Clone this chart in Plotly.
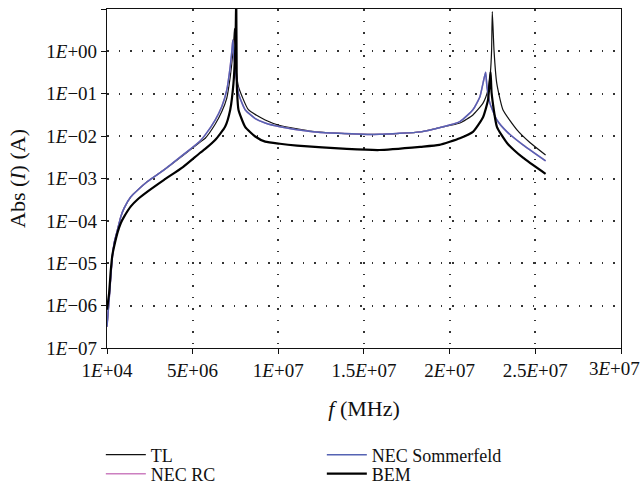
import plotly.graph_objects as go

# ---- data (frequency in Hz, current in A) ----
sommerfeld_f = [1e4, 1.34e5, 2.33e5, 3.27e5, 4.26e5, 6.19e5, 8.17e5, 1.01e6, 1.40e6, 1.79e6, 2.37e6, 3.34e6,
                4.44e6, 5.43e6, 5.74e6, 6.32e6, 6.71e6, 7.0e6, 7.2e6, 7.30e6, 7.35e6, 7.42e6, 7.49e6, 7.68e6,
                8.07e6, 8.66e6, 9.24e6, 1.01e7, 1.20e7, 1.48e7, 1.59e7, 1.83e7, 1.94e7, 2.06e7, 2.136e7,
                2.177e7, 2.195e7, 2.21e7, 2.218e7, 2.235e7, 2.276e7, 2.335e7, 2.428e7, 2.56e7]
sommerfeld_i = [3.2e-7, 1.38e-6, 4.9e-6, 1.45e-5, 3.0e-5, 6.1e-5, 1.26e-4, 2.0e-4, 3.7e-4, 5.3e-4, 8.5e-4, 1.6e-3,
                3.6e-3, 7.6e-3, 1.07e-2, 2.4e-2, 5.0e-2, 0.123, 0.44, 1.07, 1.86, 0.75, 0.43, 0.102,
                0.042, 0.026, 0.0204, 0.0166, 0.0126, 0.0111, 0.011, 0.0126, 0.0158, 0.022, 0.042,
                0.085, 0.178, 0.32, 0.145, 0.060, 0.024, 0.0126, 6.2e-3, 2.6e-3]

rc_f = sommerfeld_f
rc_i = sommerfeld_i

tl_f = [1e4, 1.34e5, 2.33e5, 3.27e5, 4.26e5, 6.19e5, 8.17e5, 1.01e6, 1.40e6, 1.79e6, 2.37e6, 3.34e6,
        4.44e6, 5.43e6, 5.74e6, 6.32e6, 6.71e6, 7.0e6, 7.2e6, 7.30e6, 7.40e6, 7.45e6, 7.50e6, 7.56e6,
        7.68e6, 8.26e6, 9.24e6, 1.01e7, 1.20e7, 1.48e7, 1.59e7, 1.83e7, 1.94e7, 2.06e7, 2.136e7,
        2.195e7, 2.224e7, 2.238e7, 2.245e7, 2.249e7, 2.259e7, 2.275e7, 2.311e7, 2.393e7, 2.47e7, 2.56e7]
tl_i = [3.2e-7, 1.38e-6, 4.9e-6, 1.45e-5, 3.0e-5, 6.1e-5, 1.26e-4, 2.0e-4, 3.7e-4, 5.3e-4, 8.5e-4, 1.6e-3,
        3.5e-3, 7.2e-3, 8.9e-3, 1.9e-2, 3.8e-2, 7.9e-2, 0.25, 0.56, 1.6, 3.5, 1.0, 0.32,
        0.148, 0.042, 0.024, 0.0178, 0.0129, 0.0111, 0.011, 0.0126, 0.0158, 0.0204, 0.0316,
        0.060, 0.123, 0.32, 1.07, 8.7, 1.07, 0.178, 0.042, 0.0141, 7.0e-3, 3.6e-3]

bem_f = [1e4, 1.34e5, 2.33e5, 3.27e5, 4.26e5, 6.19e5, 8.17e5, 1.01e6, 1.40e6, 1.79e6, 2.37e6, 3.34e6,
         4.44e6, 5.43e6, 5.74e6, 6.32e6, 6.90e6, 7.20e6, 7.39e6, 7.49e6, 7.52e6, 7.55e6, 7.575e6, 7.60e6,
         7.68e6, 8.07e6, 8.66e6, 9.24e6, 1.01e7, 1.11e7, 1.40e7, 1.59e7, 1.83e7, 1.94e7, 2.06e7, 2.136e7,
         2.195e7, 2.224e7, 2.239e7, 2.245e7, 2.276e7, 2.335e7, 2.428e7, 2.56e7]
bem_i = [8.0e-7, 2.0e-6, 7.0e-6, 1.6e-5, 2.5e-5, 5.2e-5, 8.9e-5, 1.26e-4, 2.2e-4, 3.2e-4, 4.9e-4, 9.3e-4,
         1.86e-3, 4.0e-3, 5.0e-3, 8.1e-3, 1.66e-2, 4.2e-2, 0.178, 1.0, 3.0, 20.0, 0.3, 0.11,
         0.042, 0.0166, 9.8e-3, 7.4e-3, 6.6e-3, 6.0e-3, 5.0e-3, 4.7e-3, 5.6e-3, 6.2e-3, 8.9e-3, 1.26e-2,
         2.8e-2, 7.1e-2, 0.33, 0.105, 1.66e-2, 6.9e-3, 3.1e-3, 1.29e-3]

x_tickvals = [1e4, 5e6, 1e7, 1.5e7, 2e7, 2.5e7, 3e7]
x_ticktext = ["1<i>E</i>+04", "5<i>E</i>+06", "1<i>E</i>+07", "1.5<i>E</i>+07", "2<i>E</i>+07",
              "2.5<i>E</i>+07", ""]
x_last_label = "3<i>E</i>+07"
y_tickvals = [1e-7, 1e-6, 1e-5, 1e-4, 1e-3, 1e-2, 1e-1, 1e0, 1e1]
y_ticktext = ["1<i>E</i>\u221207", "1<i>E</i>\u221206", "1<i>E</i>\u221205", "1<i>E</i>\u221204",
              "1<i>E</i>\u221203", "1<i>E</i>\u221202", "1<i>E</i>\u221201", "1<i>E</i>+00", "1<i>E</i>+01"]

FONT = "Liberation Serif"
TICKSIZE = 19
fig = go.Figure()
shape = dict(shape="spline", smoothing=0.5)
fig.add_trace(go.Scatter(x=tl_f, y=tl_i, mode="lines", name="TL", legend="legend",
                         line=dict(color="#111111", width=1.2, **shape)))
fig.add_trace(go.Scatter(x=rc_f, y=rc_i, mode="lines", name="NEC RC", legend="legend2",
                         line=dict(color="#cc7fc0", width=1.5, **shape)))
fig.add_trace(go.Scatter(x=sommerfeld_f, y=sommerfeld_i, mode="lines", name="NEC Sommerfeld", legend="legend",
                         line=dict(color="#5563b3", width=1.5, **shape)))
fig.add_trace(go.Scatter(x=bem_f, y=bem_i, mode="lines", name="BEM", legend="legend2",
                         line=dict(color="#000000", width=2.2, **shape)))

leg_common = dict(orientation="h", xanchor="left", yanchor="middle", x=-0.012,
                  entrywidth=166, entrywidthmode="pixels", traceorder="normal",
                  font=dict(family=FONT, size=18, color="#111111"), itemwidth=40,
                  bgcolor="rgba(0,0,0,0)")
fig.update_layout(
    width=643, height=488,
    margin=dict(l=107, r=22, t=9, b=140, autoexpand=False),
    paper_bgcolor="white", plot_bgcolor="white",
    font=dict(family=FONT, size=18, color="#111111"),
    showlegend=True,
    legend=dict(leg_common, y=-(455 - 348) / 339),
    legend2=dict(leg_common, y=-(474 - 348) / 339),
    annotations=[dict(text=x_last_label, x=3e7, xref="x", y=0, yref="paper",
                      xanchor="right", yanchor="top", xshift=21, yshift=-8, showarrow=False,
                      font=dict(family=FONT, size=TICKSIZE, color="#111111"))],
)
grid = dict(showgrid=True, gridcolor="#333333", griddash="1.5px,10px", gridwidth=1.5)
fig.update_xaxes(type="linear", range=[1e4, 3e7], tickvals=x_tickvals, ticktext=x_ticktext,
                 tickfont=dict(size=TICKSIZE),
                 showline=True, linecolor="#111111", linewidth=1.2, mirror=True,
                 ticks="outside", ticklen=5, tickcolor="#111111", **grid,
                 zeroline=False, title=dict(text="<i>f</i> (MHz)", standoff=20))
fig.update_yaxes(type="log", range=[-7, 1], tickvals=y_tickvals, ticktext=y_ticktext,
                 tickfont=dict(size=TICKSIZE),
                 showline=True, linecolor="#111111", linewidth=1.2, mirror=True,
                 ticks="outside", ticklen=5, tickcolor="#111111", **grid,
                 zeroline=False, title=dict(text="Abs (<i>I</i>) (A)", standoff=14))

fig.write_html("out.html")
